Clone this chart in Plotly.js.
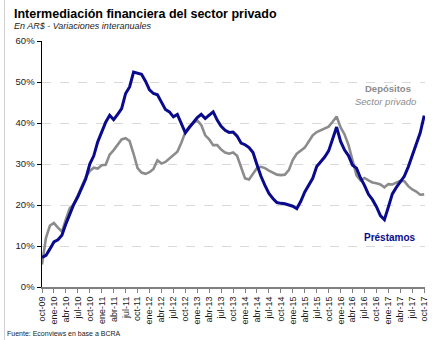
<!DOCTYPE html>
<html><head><meta charset="utf-8">
<script src="https://cdn.plot.ly/plotly-3.0.1.min.js"></script>
<style>html,body{margin:0;padding:0;background:#fff}#chart{width:444px;height:340px}</style>
</head><body><div id="chart"></div>
<script>
const months = [
 "oct-09","nov-09","dic-09",
 "ene-10","feb-10","mar-10","abr-10","may-10","jun-10","jul-10","ago-10","sep-10","oct-10","nov-10","dic-10",
 "ene-11","feb-11","mar-11","abr-11","may-11","jun-11","jul-11","ago-11","sep-11","oct-11","nov-11","dic-11",
 "ene-12","feb-12","mar-12","abr-12","may-12","jun-12","jul-12","ago-12","sep-12","oct-12","nov-12","dic-12",
 "ene-13","feb-13","mar-13","abr-13","may-13","jun-13","jul-13","ago-13","sep-13","oct-13","nov-13","dic-13",
 "ene-14","feb-14","mar-14","abr-14","may-14","jun-14","jul-14","ago-14","sep-14","oct-14","nov-14","dic-14",
 "ene-15","feb-15","mar-15","abr-15","may-15","jun-15","jul-15","ago-15","sep-15","oct-15","nov-15","dic-15",
 "ene-16","feb-16","mar-16","abr-16","may-16","jun-16","jul-16","ago-16","sep-16","oct-16","nov-16","dic-16",
 "ene-17","feb-17","mar-17","abr-17","may-17","jun-17","jul-17","ago-17","sep-17","oct-17"
];
const tickLabels = [
 "oct-09","ene-10","abr-10","jul-10","oct-10","ene-11","abr-11","jul-11","oct-11",
 "ene-12","abr-12","jul-12","oct-12","ene-13","abr-13","jul-13","oct-13",
 "ene-14","abr-14","jul-14","oct-14","ene-15","abr-15","jul-15","oct-15",
 "ene-16","abr-16","jul-16","oct-16","ene-17","abr-17","jul-17","oct-17"
];
const prestamos = [
 7.2,7.7,9.3,11,11.5,12.6,15.4,18,20.2,22,24.4,26.4,30,32,35.4,37.8,40.2,41.9,40.8,42.1,43.5,47.2,48.8,52.4,52.2,
 51.9,50.2,48.1,47.2,46.9,45.1,43.3,42.7,41.5,42.1,39.8,37.6,38.9,40.2,41.3,42.1,41.1,41.9,42.7,40.7,39.2,38.2,37.7,37.8,
 36.8,35.1,34.7,34,32.8,29.8,27,24.8,22.8,21.6,20.6,20.4,20.3,20,19.7,19.1,20.9,23.2,24.7,26.5,29.4,30.5,31.7,33.2,
 36,39,35.5,33.4,32,29.7,29,26.6,24.8,22.6,21.3,19.6,17.4,16.4,19.5,22.7,24.3,25.8,27,29.3,31.9,34.5,37.6,41.8
];
const depositos = [
 5.5,12,15,15.6,14.5,13.5,16.5,19.3,20.2,22.5,24.5,26.8,28.3,29.1,28.9,29.7,29.8,32.3,33.4,34.8,36,36.3,35.6,32.5,29,
 27.9,27.6,28,28.8,30.9,30.1,30.5,31.4,32.2,33,35.2,37.8,39.1,40,40.6,39.5,37,36,34.6,34.6,33.5,32.8,32.5,32.8,
 32,29,26.5,26.2,27.5,29,29.3,29,28.4,27.8,27.4,27.3,27.4,28.5,31,32.5,33.2,34,35.5,37,37.8,38.2,38.7,39.1,
 40.3,41.6,38.9,37.2,34.6,30.9,27.2,26,26.6,26,25.5,25.3,25,24.3,25.1,25,25.4,25.9,25.8,24.6,23.8,23.3,22.5,22.6
];
const yTicks = [0,10,20,30,40,50,60];
const yTickText = ["0%","10%","20%","30%","40%","50%","60%"];

const L = 42, R = 425, T = 41, B = 287;
const W = R - L, H = B - T;
const px = x => (x - L) / W;
const py = y => (B - y) / H;

const traces = [
 {x: months, y: depositos, type: 'scatter', mode: 'lines', name: 'Depósitos',
  line: {color: '#8c8c8c', width: 2.6}, hoverinfo: 'skip'},
 {x: months, y: prestamos, type: 'scatter', mode: 'lines', name: 'Préstamos',
  line: {color: '#0a0a8c', width: 3}, hoverinfo: 'skip'}
];

const layout = {
 width: 444, height: 340,
 margin: {l: L, r: 444 - R, t: T, b: 340 - B, pad: 0},
 paper_bgcolor: '#fff', plot_bgcolor: '#fff',
 showlegend: false,
 font: {family: 'Liberation Sans, Arial, sans-serif', color: '#1a1a1a', size: 9},
 xaxis: {
  type: 'category', categoryorder: 'array', categoryarray: months,
  range: [0, 96.2], tickmode: 'array', tickvals: tickLabels, ticktext: tickLabels,
  tickangle: -90, ticks: 'outside', ticklen: 4, tickcolor: '#808080', tickwidth: 1,
  showgrid: false, zeroline: false, showline: true, linecolor: '#808080', linewidth: 2,
  tickfont: {size: 9, color: '#1a1a1a'}, fixedrange: true
 },
 yaxis: {
  range: [0, 60], tickmode: 'array', tickvals: yTicks, ticktext: yTickText,
  ticks: 'outside', ticklen: 4, tickcolor: '#000', tickwidth: 1,
  showgrid: true, gridcolor: '#d9d9d9', griddash: 'dash', gridwidth: 1,
  zeroline: false, showline: true, linecolor: '#000', linewidth: 1.5,
  tickfont: {size: 9.5, color: '#1a1a1a'}, fixedrange: true
 },
 shapes: [
  {type: 'line', xref: 'paper', yref: 'paper', x0: px(4.5), x1: px(4.5), y0: py(0), y1: py(340),
   line: {color: '#d0d0d0', width: 1}}
 ],
 annotations: [
  {xref: 'paper', yref: 'paper', x: px(12), y: py(14), xanchor: 'left', yanchor: 'middle', showarrow: false,
   text: '<b>Intermediación financiera del sector privado</b>', font: {size: 12.5, color: '#000'}},
  {xref: 'paper', yref: 'paper', x: px(12), y: py(25.5), xanchor: 'left', yanchor: 'middle', showarrow: false,
   text: '<i>En AR$ - Variaciones interanuales</i>', font: {size: 9, color: '#1a1a1a'}},
  {xref: 'paper', yref: 'paper', x: px(5), y: py(333), xanchor: 'left', yanchor: 'middle', showarrow: false,
   text: 'Fuente: Econviews en base a BCRA', font: {size: 7, color: '#1a1a1a'}},
  {xref: 'paper', yref: 'paper', x: px(388), y: py(89), xanchor: 'center', yanchor: 'middle', showarrow: false,
   text: '<b>Depósitos</b>', font: {size: 9.5, color: '#8c8c8c'}},
  {xref: 'paper', yref: 'paper', x: px(385), y: py(101), xanchor: 'center', yanchor: 'middle', showarrow: false,
   text: '<i>Sector privado</i>', font: {size: 9.5, color: '#8c8c8c'}},
  {xref: 'paper', yref: 'paper', x: px(389.5), y: py(237), xanchor: 'center', yanchor: 'middle', showarrow: false,
   text: '<b>Préstamos</b>', font: {size: 10, color: '#0a0a8c'}}
 ]
};

Plotly.newPlot('chart', traces, layout, {staticPlot: true, displayModeBar: false});
</script></body></html>
